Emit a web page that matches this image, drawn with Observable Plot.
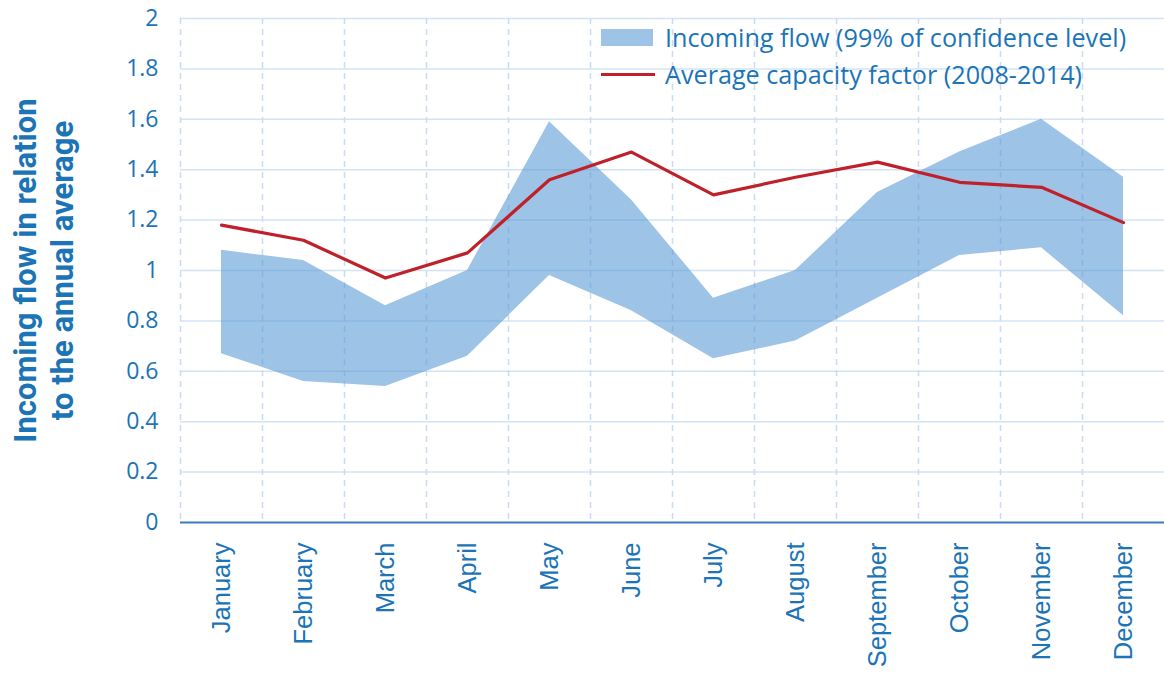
<!DOCTYPE html>
<html>
<head>
<meta charset="utf-8">
<script src="https://cdn.jsdelivr.net/npm/d3@7"></script>
<script src="https://cdn.jsdelivr.net/npm/@observablehq/plot@0.6"></script>
<style>
  html, body { margin: 0; padding: 0; background: #fff; }
  #wrap { position: relative; width: 1164px; height: 673px; font-family: "Open Sans", sans-serif; }
  #legend { position: absolute; left: 601px; top: 19px; color: #1b74b6; font-size: 25.2px; line-height: 37px; }
  .item { display: flex; align-items: center; white-space: nowrap; }
  .sw { width: 52px; height: 17px; background: #9dc3e6; margin-right: 12px; }
  .ln { width: 54px; height: 3px; background: #c0202a; margin-right: 10px; }
</style>
</head>
<body>
<div id="wrap">
  <div id="chart"></div>
  <div id="legend">
    <div class="item"><span class="sw"></span><span>Incoming flow (99% of confidence level)</span></div>
    <div class="item"><span class="ln"></span><span>Average capacity factor (2008-2014)</span></div>
  </div>
</div>
<script>
const months = ["January","February","March","April","May","June","July","August","September","October","November","December"];
const flowLow  = [0.67, 0.56, 0.54, 0.66, 0.98, 0.84, 0.65, 0.72, 0.89, 1.06, 1.09, 0.82];
const flowHigh = [1.08, 1.04, 0.86, 1.00, 1.59, 1.28, 0.89, 1.00, 1.31, 1.47, 1.60, 1.37];
const capacity = [1.18, 1.12, 0.97, 1.07, 1.36, 1.47, 1.30, 1.37, 1.43, 1.35, 1.33, 1.19];
const yTicks = [0, 0.2, 0.4, 0.6, 0.8, 1, 1.2, 1.4, 1.6, 1.8, 2];
const yTitle = "Incoming flow in relation\nto the annual average";

const data = months.map((m, i) => ({i, month: m, low: flowLow[i], high: flowHigh[i], cap: capacity[i]}));
const boundaries = months.map((m, i) => i - 0.5);

const blue = "#1b74b6";

const chart = Plot.plot({
  width: 1164,
  height: 673,
  marginLeft: 180,
  marginRight: 0,
  marginTop: 18,
  marginBottom: 151,
  style: {fontFamily: "Open Sans, sans-serif", color: blue, background: "#fff"},
  x: {type: "linear", domain: [-0.5, 11.5]},
  y: {domain: [0, 2]},
  marks: [
    Plot.ruleY(yTicks.filter(d => d > 0), {stroke: "#d2e3f4", strokeWidth: 1.5}),
    Plot.ruleX(boundaries, {stroke: "#c9dcf1", strokeWidth: 1.5, strokeDasharray: "6,5"}),
    Plot.areaY(data, {x: "i", y1: "low", y2: "high", fill: "#5b9bd5", fillOpacity: 0.6}),
    Plot.line(data, {x: "i", y: "cap", stroke: "#c0202a", strokeWidth: 3.2}),
    Plot.ruleY([0], {stroke: "#3d7dbd", strokeWidth: 2}),
    Plot.axisY(yTicks, {tickSize: 0, tickPadding: 22, fontSize: 23, tickFormat: d => String(+d.toFixed(1)), label: null, fill: blue}),
    Plot.axisX(months.map((m, i) => i), {tickSize: 0, tickPadding: 20, tickRotate: -90, fontSize: 25.5, tickFormat: i => months[i], label: null, fill: blue, fontFamily: "Liberation Sans, Arial, sans-serif"}),
    Plot.text([yTitle], {frameAnchor: "left", dx: -138, rotate: -90, textAnchor: "middle", fontSize: 31, fontWeight: "bold", lineHeight: 1.2, fill: blue, fontFamily: "Roboto, sans-serif"})
  ]
});
document.getElementById("chart").appendChild(chart);
</script>
</body>
</html>
